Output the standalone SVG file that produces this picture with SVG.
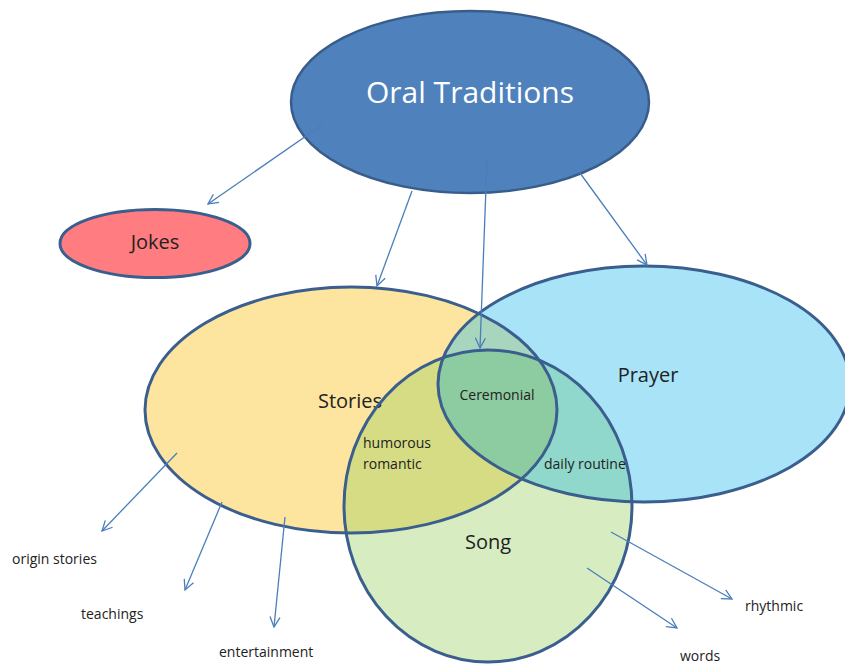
<svg xmlns="http://www.w3.org/2000/svg" width="845" height="666" viewBox="0 0 845 666">
<style>
text{font-family:"Open Sans","Liberation Sans",sans-serif;fill:#222;}
.big{font-size:20px;text-anchor:middle;}
.sm{font-size:14px;}
.edge{stroke:#3A5F8E;stroke-width:3;fill:none;}
.conn line{stroke:#4A7EBB;stroke-width:1.3;marker-end:url(#arr);}
</style>
<defs>
<marker id="arr" viewBox="0 0 12 12" refX="11" refY="6" markerWidth="12" markerHeight="12" markerUnits="userSpaceOnUse" orient="auto">
<path d="M1,1 L11,6 L1,11" fill="none" stroke="#4A7EBB" stroke-width="1.3"/>
</marker>
<clipPath id="cS"><ellipse cx="351" cy="410" rx="206" ry="123"/></clipPath>
<clipPath id="cP"><ellipse cx="644" cy="384" rx="206" ry="118"/></clipPath>
</defs>
<rect width="845" height="666" fill="#fff"/>
<g id="oral">
<ellipse cx="470" cy="102" rx="179" ry="91" fill="#4F81BD" stroke="#385D8A" stroke-width="2.5"/>
<text x="470" y="103" style="font-size:30px;text-anchor:middle;fill:#fff">Oral Traditions</text>
</g>
<g id="jokes">
<ellipse cx="155" cy="243.5" rx="95" ry="34" fill="#FF7C80" stroke="#3A5F8E" stroke-width="3"/>
<text class="big" x="155" y="249">Jokes</text>
</g>
<g id="venn-fills">
<ellipse cx="351" cy="410" rx="206" ry="123" fill="#FDE59F"/>
<ellipse cx="644" cy="384" rx="206" ry="118" fill="#A9E3F8"/>
<ellipse cx="488" cy="506" rx="144" ry="156" fill="#D8ECC1"/>
<ellipse cx="644" cy="384" rx="206" ry="118" fill="#A8D5BD" clip-path="url(#cS)"/>
<ellipse cx="488" cy="506" rx="144" ry="156" fill="#D6DC83" clip-path="url(#cS)"/>
<ellipse cx="488" cy="506" rx="144" ry="156" fill="#8FD8CB" clip-path="url(#cP)"/>
<g clip-path="url(#cS)"><ellipse cx="488" cy="506" rx="144" ry="156" fill="#8DCBA0" clip-path="url(#cP)"/></g>
</g>
<g id="stories">
<ellipse class="edge" cx="351" cy="410" rx="206" ry="123"/>
<text class="big" x="350" y="408">Stories</text>
</g>
<g id="prayer">
<ellipse class="edge" cx="644" cy="384" rx="206" ry="118"/>
<text class="big" x="648" y="382">Prayer</text>
</g>
<g id="song">
<ellipse class="edge" cx="488" cy="506" rx="144" ry="156"/>
<text class="big" x="488" y="549">Song</text>
</g>
<g id="overlap-labels">
<text class="sm" x="497" y="400" text-anchor="middle">Ceremonial</text>
<text class="sm" x="363" y="448">humorous</text>
<text class="sm" x="363" y="469">romantic</text>
<text class="sm" x="544" y="469">daily routine</text>
</g>
<g id="leaf-labels">
<text class="sm" x="12" y="564">origin stories</text>
<text class="sm" x="81" y="619">teachings</text>
<text class="sm" x="219" y="657">entertainment</text>
<text class="sm" x="745" y="611">rhythmic</text>
<text class="sm" x="680" y="661">words</text>
</g>
<g id="connectors" class="conn">
<line x1="322" y1="125" x2="208" y2="204"/>
<line x1="412" y1="191" x2="377" y2="286"/>
<line x1="487" y1="160" x2="480" y2="348"/>
<line x1="580" y1="173" x2="647" y2="265"/>
<line x1="177" y1="453" x2="102" y2="531"/>
<line x1="222" y1="502" x2="185" y2="590"/>
<line x1="285" y1="517" x2="274" y2="627"/>
<line x1="611" y1="532" x2="732" y2="599"/>
<line x1="587" y1="568" x2="677" y2="628"/>
</g>
</svg>
